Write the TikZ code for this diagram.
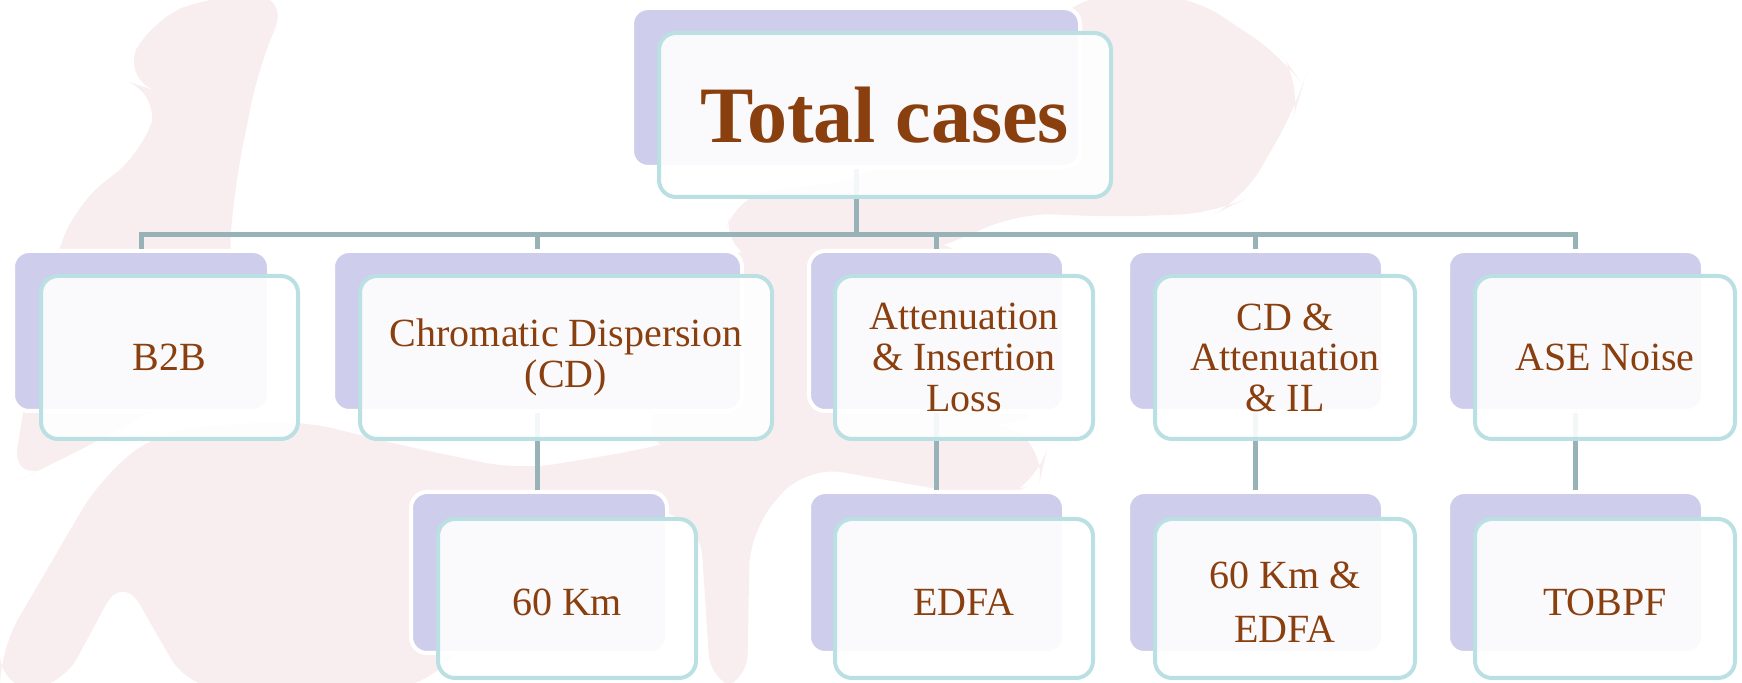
\documentclass[tikz,border=0pt]{standalone}
\usepackage{fontspec}
\setmainfont{Liberation Serif}
\usetikzlibrary{fit}
\definecolor{lav}{HTML}{CECEEC}
\definecolor{edge}{HTML}{BBE0E3}
\definecolor{linec}{HTML}{98B3B7}
\definecolor{brn}{HTML}{8A3F0F}
\definecolor{wm}{HTML}{F9EEEF}
\tikzset{
  backbox/.style={rounded corners=8pt, fill=lav, draw=white, line width=2pt, inner sep=0pt},
  frontbox/.style={rounded corners=8.5pt, fill=white, fill opacity=0.9,
    draw=edge, draw opacity=1, line width=2pt, inner sep=0pt},
  lbl/.style={text=brn, align=center, inner sep=0pt, font=\fontsize{20}{20.3}\selectfont},
  lowlbl/.style={lbl, yshift=-2pt},
  conn/.style={draw=linec, line width=2.5pt},
  logoshape/.style={fill=wm, rounded corners=18pt},
}
\begin{document}
\begin{tikzpicture}[x=0.5pt, y=-0.5pt]
\useasboundingbox (0,0) rectangle (1742,683);

% faint logo in the background
\fill[logoshape] (216,-5) -- (289,-5) -- (258,70) -- (236,180) -- (228,260) -- (240,330)
  -- (190,390) -- (100,440) -- (40,470) -- (12,483) -- (22,418) -- (45,290) -- (75,205)
  -- (145,150) -- (160,92) -- (122,80) -- (150,20) -- cycle;
\fill[logoshape] (1077,-5) -- (1190,-5) -- (1283,57) -- (1303,85) -- (1297,105)
  -- (1243,200) -- (1217,213) -- (1117,217) -- (1017,213) -- (960,240) -- (900,260)
  -- (800,270) -- (721,250) -- (735,195) -- (860,180) -- (1000,90) -- cycle;
\fill[logoshape] (721,250) -- (960,240) -- (1047,420) -- (640,450) -- cycle;
\fill[logoshape] (100,479) -- (160,430) -- (300,420) -- (400,445) -- (520,470)
  -- (640,450) -- (760,420) -- (900,410) -- (1000,420) -- (1047,450) -- (1040,480)
  -- (1000,500) -- (806,466) -- (750,530) -- (747,690) -- (711,690) -- (700,520)
  -- (600,500) -- (420,690) -- (189,690) -- (137,600) -- (123,573) -- (60,690)
  -- (0,690) -- (0,650) -- cycle;

% back plates
\node[backbox, fit={(632,8)(1080,167)}] (tb) {};
\node[backbox, fit={(13,251)(269,411)}] (b1b) {};
\node[backbox, fit={(333,251)(742,411)}] (b2b) {};
\node[backbox, fit={(809,251)(1064,411)}] (b3b) {};
\node[backbox, fit={(1128,251)(1383,411)}] (b4b) {};
\node[backbox, fit={(1448,251)(1703,411)}] (b5b) {};
\node[backbox, fit={(411,492)(667,653)}] (c2b) {};
\node[backbox, fit={(809,492)(1064,653)}] (c3b) {};
\node[backbox, fit={(1128,492)(1383,653)}] (c4b) {};
\node[backbox, fit={(1448,492)(1703,653)}] (c5b) {};

% connectors
\coordinate (bar) at (856,235);
\draw[conn] (tb.south) -- (bar);
\foreach \b in {b1b,b2b,b3b,b4b,b5b}
  \draw[conn] (\b.north) |- (bar);
\draw[conn] (b2b.south) -- (b2b.south |- c2b.north);
\draw[conn] (b3b.south) -- (b3b.south |- c3b.north);
\draw[conn] (b4b.south) -- (b4b.south |- c4b.north);
\draw[conn] (b5b.south) -- (b5b.south |- c5b.north);

% front cards
\node[frontbox, fit={(659,33)(1111,197)}] (top) {};
\node[frontbox, fit={(41,276)(298,439)}] (b1) {};
\node[frontbox, fit={(360,276)(772,439)}] (b2) {};
\node[frontbox, fit={(835,276)(1093,439)}] (b3) {};
\node[frontbox, fit={(1155,276)(1415,439)}] (b4) {};
\node[frontbox, fit={(1475,276)(1735,439)}] (b5) {};
\node[frontbox, fit={(438,519)(696,678)}] (c2) {};
\node[frontbox, fit={(835,519)(1093,678)}] (c3) {};
\node[frontbox, fit={(1155,519)(1415,678)}] (c4) {};
\node[frontbox, fit={(1475,519)(1735,678)}] (c5) {};

% labels
\node[lbl, font=\bfseries\fontsize{40}{40}\selectfont] (topt) at (top) {Total cases};
\node[lbl] (b1t) at (b1) {B2B};
\node[lbl] (b2t) at (b2) {Chromatic Dispersion\\(CD)};
\node[lbl] (b3t) at (b3) {Attenuation\\\& Insertion\\Loss};
\node[lbl] (b4t) at (b4) {CD \&\\Attenuation\\\& IL};
\node[lbl] (b5t) at (b5) {ASE Noise};
\node[lowlbl] (c2t) at (c2) {60 Km};
\node[lowlbl] (c3t) at (c3) {EDFA};
\node[lowlbl, font=\fontsize{20}{27}\selectfont] (c4t) at (c4) {60 Km \&\\EDFA};
\node[lowlbl] (c5t) at (c5) {TOBPF};
\end{tikzpicture}
\end{document}
